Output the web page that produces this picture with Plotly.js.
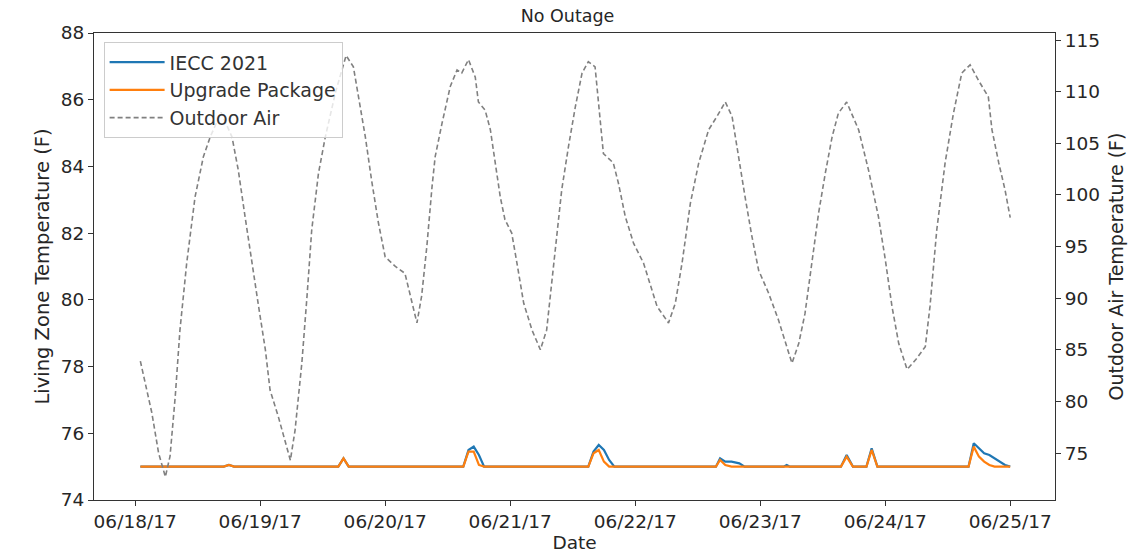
<!DOCTYPE html>
<html>
<head>
<meta charset="utf-8">
<script src="https://cdn.plot.ly/plotly-3.0.1.min.js"></script>
<style>html,body{margin:0;padding:0;background:#fff;}#chart{width:1135px;height:556px;}</style>
</head>
<body>
<div id="chart"></div>
<script>
// Hours after 2017-06-18 00:00
const outdoorHours = [1.0,3.2,4.5,5.8,6.7,7.7,8.6,9.9,11.5,13.1,14.4,16.5,18.6,19.8,21.1,22.4,23.7,25.0,25.9,27.5,28.2,29.8,30.7,32.0,33.0,33.9,35.2,36.5,38.5,40.5,41.9,42.9,44.2,45.4,46.7,48.0,49.9,51.8,52.8,54.1,55.0,56.0,57.0,57.6,58.9,60.5,61.8,62.7,64.0,65.3,65.9,67.2,68.2,69.1,70.1,71.0,72.3,73.3,74.6,76.2,77.8,79.0,80.0,81.0,81.9,83.2,84.5,85.8,87.0,88.3,89.0,89.9,91.8,92.8,94.1,95.7,97.6,98.9,100.2,102.4,103.7,105.0,106.6,108.2,110.1,111.7,113.3,114.6,115.8,117.1,118.4,119.7,121.6,123.5,126.1,127.4,128.6,129.9,131.2,132.5,133.8,135.0,136.6,138.9,140.8,142.7,144.0,145.3,146.6,148.2,149.8,151.7,152.6,153.9,155.5,157.1,158.7,160.3,161.9,163.8,164.5,165.8,167.0,168.0];
const outdoorAir = [83.9,78.9,75.0,72.7,74.7,80.5,86.9,93.4,99.8,103.7,105.6,108.0,105.6,102.4,97.9,93.4,89.2,85.0,81.1,78.5,77.2,74.3,77.2,83.7,90.2,96.6,102.1,105.6,110.0,113.5,112.4,109.5,105.6,101.4,97.3,94.0,93.1,92.4,90.2,87.6,90.2,95.0,100.8,103.7,106.9,110.5,112.1,111.8,113.1,111.4,109.0,108.2,106.3,103.1,99.8,97.6,96.3,93.4,89.5,86.9,85.0,86.9,91.8,96.6,100.5,104.7,108.5,111.8,112.9,112.4,108.5,104.0,103.1,101.1,97.9,95.3,93.4,91.4,89.2,87.6,89.5,93.4,99.2,103.1,106.3,107.6,109.0,107.6,103.7,99.8,96.0,92.7,90.5,87.9,83.7,85.6,88.5,93.4,98.2,102.1,105.6,107.9,109.0,106.3,102.4,97.9,93.8,89.2,85.6,83.1,84.0,85.3,89.2,96.6,103.1,107.9,111.8,112.6,111.1,109.5,106.3,103.1,100.5,97.8];

const ieccHours = [1,17,18,19,39,40,41,63,64,65,66,67,87,88,89,90,91,92,111.5,112.3,113.3,114.5,116,117,124.5,125.1,125.7,135.5,136.6,137.8,140.4,141.4,142.5,160,161,162,163,164,165,166,167,168];
const ieccTemp  = [75.0,75.0,75.05,75.0,75.0,75.25,75.0,75.0,75.5,75.6,75.35,75.0,75.0,75.45,75.65,75.5,75.2,75.0,75.0,75.25,75.15,75.15,75.1,75.0,75.0,75.05,75.0,75.0,75.35,75.0,75.0,75.55,75.0,75.0,75.7,75.55,75.4,75.35,75.25,75.15,75.05,75.0];

const upgradeHours = [1,17,18,19,39,40,41,63,64,65,66,67,87,88,89,90,91,111.5,112.3,113.3,114.5,135.5,136.6,137.8,140.4,141.4,142.5,160,161,162,163,164,165,168];
const upgradeTemp  = [75.0,75.0,75.05,75.0,75.0,75.25,75.0,75.0,75.45,75.45,75.05,75.0,75.0,75.4,75.5,75.15,75.0,75.0,75.2,75.05,75.0,75.0,75.3,75.0,75.0,75.5,75.0,75.0,75.6,75.3,75.15,75.05,75.0,75.0];

const seriesNames = ['IECC 2021', 'Upgrade Package', 'Outdoor Air'];
const dateTicks = ['2017-06-18','2017-06-19','2017-06-20','2017-06-21','2017-06-22','2017-06-23','2017-06-24','2017-06-25'];
const leftTicks = [74,76,78,80,82,84,86,88];
const rightTicks = [75,80,85,90,95,100,105,110,115];

const BASE = Date.UTC(2017,5,18,0,0,0);
function toDate(h){ return new Date(BASE + Math.round(h*3600000)).toISOString().slice(0,19).replace('T',' '); }

const FONT = 'DejaVu Sans, sans-serif';
const FS = 18.5;
const traces = [
  {x: ieccHours.map(toDate), y: ieccTemp, name: seriesNames[0], type:'scatter', mode:'lines',
   line:{color:'#1f77b4', width:2.2}, yaxis:'y'},
  {x: upgradeHours.map(toDate), y: upgradeTemp, name: seriesNames[1], type:'scatter', mode:'lines',
   line:{color:'#ff7f0e', width:2.2}, yaxis:'y'},
  {x: outdoorHours.map(toDate), y: outdoorAir, name: seriesNames[2], type:'scatter', mode:'lines',
   line:{color:'#808080', width:1.6, dash:'5px,3px'}, yaxis:'y2'}
];

const layout = {
  width:1135, height:556,
  margin:{l:94, r:80, t:33, b:56},
  paper_bgcolor:'#fff', plot_bgcolor:'#fff',
  font:{family:FONT, size:FS, color:'#262626'},
  title:{text:'No Outage', x:0.5, xanchor:'center', y:0.972, yanchor:'middle', font:{family:FONT, size:17.5, color:'#262626'}},
  showlegend:true,
  legend:{x:0.01, y:0.98, xanchor:'left', yanchor:'top', bgcolor:'rgba(255,255,255,0.8)', bordercolor:'#cccccc', borderwidth:1,
          font:{family:FONT, size:19, color:'#333'}, itemwidth:55},
  xaxis:{type:'date', range:[toDate(-7.9), toDate(176.6)], tickvals:dateTicks, tickformat:'%m/%d/%y',
         showgrid:false, zeroline:false, showline:true, mirror:true, linecolor:'#333', linewidth:1,
         ticks:'outside', ticklen:5, tickcolor:'#333', tickfont:{size:FS},
         title:{text:'Date', standoff:4, font:{size:FS}}},
  yaxis:{range:[74,88], tickvals:leftTicks, showgrid:false, zeroline:false, showline:true, linecolor:'#333', linewidth:1,
         ticks:'outside', ticklen:5, tickcolor:'#333', tickfont:{size:FS},
         title:{text:'Living Zone Temperature (F)', standoff:5, font:{size:19.5}}},
  yaxis2:{overlaying:'y', side:'right', range:[70.45,115.68], tickvals:rightTicks, showgrid:false, zeroline:false,
          showline:true, linecolor:'#333', linewidth:1, ticks:'outside', ticklen:5, tickcolor:'#333', tickfont:{size:FS},
          title:{text:'Outdoor Air Temperature (F)', standoff:10, font:{size:19}}}
};

Plotly.newPlot('chart', traces, layout, {displayModeBar:false, staticPlot:true});
</script>
</body>
</html>
